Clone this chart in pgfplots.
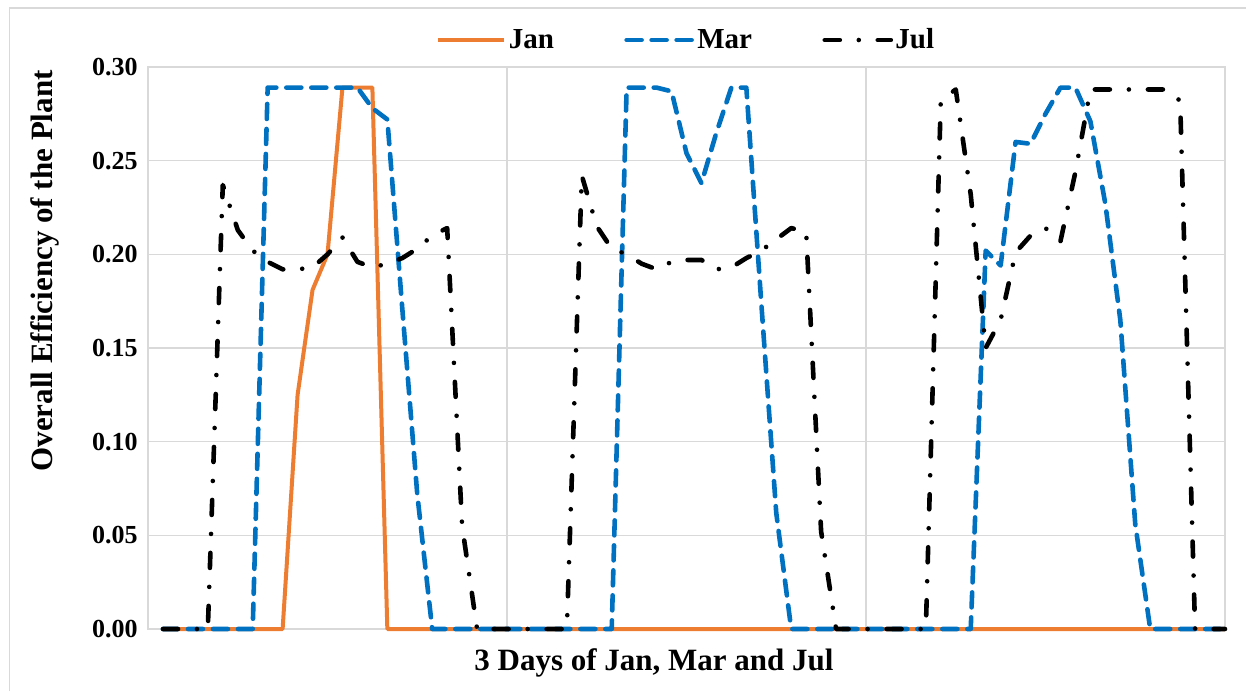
\documentclass[border=0pt]{standalone}
\usepackage{pgfplots}
\pgfplotsset{compat=1.18}
\usepackage{fontspec}
\setmainfont{Liberation Serif}
\definecolor{janorange}{HTML}{ED7D31}
\definecolor{marblue}{HTML}{0070C0}
\definecolor{gridgray}{HTML}{D9D9D9}

\begin{document}
\begin{tikzpicture}
\useasboundingbox (0,0) rectangle (623pt,345.5pt);
\draw[gridgray, line width=0.75pt] (4.75pt,0pt) -- (4.75pt,341.5pt) -- (623pt,341.5pt);
\begin{axis}[
  at={(74pt,31pt)}, anchor=south west,
  scale only axis, width=538.5pt, height=281pt,
  xmin=0, xmax=72, ymin=0, ymax=0.30,
  xtick={24,48,72}, xticklabels={,,},
  ytick={0,0.05,0.10,0.15,0.20,0.25,0.30},
  yticklabel style={/pgf/number format/fixed, /pgf/number format/fixed zerofill, /pgf/number format/precision=2, /pgf/number format/assume math mode=true},
  yticklabel style={anchor=east, inner sep=0pt, xshift=-5pt},
  ticklabel style={font=\fontsize{13}{15}\selectfont\bfseries},
  axis line style={gridgray, line width=0.75pt},
  grid=major, major grid style={gridgray, line width=0.75pt},
  major tick length=0pt, tick style={draw=none},
  clip=false,
  xlabel={3 Days of Jan, Mar and Jul},
  xlabel style={at={(axis description cs:0.4698,-0.0605)}, anchor=center, font=\fontsize{15.5}{18}\selectfont\bfseries},
  ylabel={Overall Efficiency of the Plant},
  ylabel style={at={(axis description cs:-0.0956,0.637)}, anchor=center, font=\fontsize{15.5}{18}\selectfont\bfseries},
  legend style={draw=none, fill=none, at={(0.5,1.048)}, anchor=center, legend columns=3,
    font=\fontsize{14.5}{17}\selectfont\bfseries,
    /tikz/every even column/.append style={column sep=34pt},
    inner sep=0pt, nodes={inner sep=1.2pt}},
  legend image code/.code={\draw[#1] (0pt,0pt) -- (33pt,0pt);},
]
\addplot[janorange, line width=2pt, line join=round] coordinates {
(1,0)(2,0)(3,0)(4,0)(5,0)(6,0)(7,0)(8,0)(9,0)(10,0.125)(11,0.181)(12,0.200)
(13,0.289)(14,0.289)(15,0.289)(16,0)(17,0)(18,0)(19,0)(20,0)(21,0)(22,0)(23,0)(24,0)
(25,0)(26,0)(27,0)(28,0)(29,0)(30,0)(31,0)(32,0)(33,0)(34,0)(35,0)(36,0)
(37,0)(38,0)(39,0)(40,0)(41,0)(42,0)(43,0)(44,0)(45,0)(46,0)(47,0)(48,0)
(49,0)(50,0)(51,0)(52,0)(53,0)(54,0)(55,0)(56,0)(57,0)(58,0)(59,0)(60,0)
(61,0)(62,0)(63,0)(64,0)(65,0)(66,0)(67,0)(68,0)(69,0)(70,0)(71,0)(72,0)
};
\addlegendentry{Jan}
\addplot[marblue, line width=2.3pt, line cap=round, line join=round, dash pattern=on 7.5pt off 5pt] coordinates {
(1,0)(2,0)(3,0)(4,0)(5,0)(6,0)(7,0)(8,0.289)(9,0.289)(10,0.289)(11,0.289)(12,0.289)
(13,0.289)(14,0.289)(15,0.278)(16,0.272)(17,0.171)(18,0.072)(19,0)(20,0)(21,0)(22,0)(23,0)(24,0)
(25,0)(26,0)(27,0)(28,0)(29,0)(30,0)(31,0)(32,0.289)(33,0.289)(34,0.289)(35,0.287)(36,0.254)
(37,0.238)(38,0.265)(39,0.289)(40,0.289)(41,0.174)(42,0.062)(43,0)(44,0)(45,0)(46,0)(47,0)(48,0)
(49,0)(50,0)(51,0)(52,0)(53,0)(54,0)(55,0)(56,0.202)(57,0.194)(58,0.260)(59,0.259)(60,0.275)
(61,0.289)(62,0.289)(63,0.271)(64,0.227)(65,0.165)(66,0.056)(67,0)(68,0)(69,0)(70,0)(71,0)(72,0)
};
\addlegendentry{Mar}
\addplot[black, line width=2.3pt, line cap=round, line join=round, dash pattern=on 7.5pt off 9.5pt on 0pt off 9.5pt] coordinates {
(1,0)(2,0)(3,0)(4,0)(5,0.237)(6,0.213)(7,0.202)(8,0.196)(9,0.192)(10,0.192)(11,0.193)(12,0.200)
(13,0.209)(14,0.196)(15,0.193)(16,0.195)(17,0.198)(18,0.203)(19,0.210)(20,0.214)(21,0.055)(22,0)(23,0)(24,0)
(25,0)(26,0)(27,0)(28,0)(29,0.242)(30,0.215)(31,0.203)(32,0.200)(33,0.195)(34,0.192)(35,0.196)(36,0.197)
(37,0.197)(38,0.192)(39,0.193)(40,0.198)(41,0.202)(42,0.208)(43,0.214)(44,0.212)(45,0.052)(46,0)(47,0)(48,0)
(49,0)(50,0)(51,0)(52,0)(53,0.282)(54,0.288)(55,0.232)(56,0.150)(57,0.165)(58,0.201)(59,0.210)(60,0.214)
(61,0.207)(62,0.244)(63,0.288)(64,0.288)(65,0.288)(66,0.288)(67,0.288)(68,0.288)(69,0.282)(70,0)(71,0)(72,0)
};
\addlegendentry{Jul}
\end{axis}
\end{tikzpicture}
\end{document}
